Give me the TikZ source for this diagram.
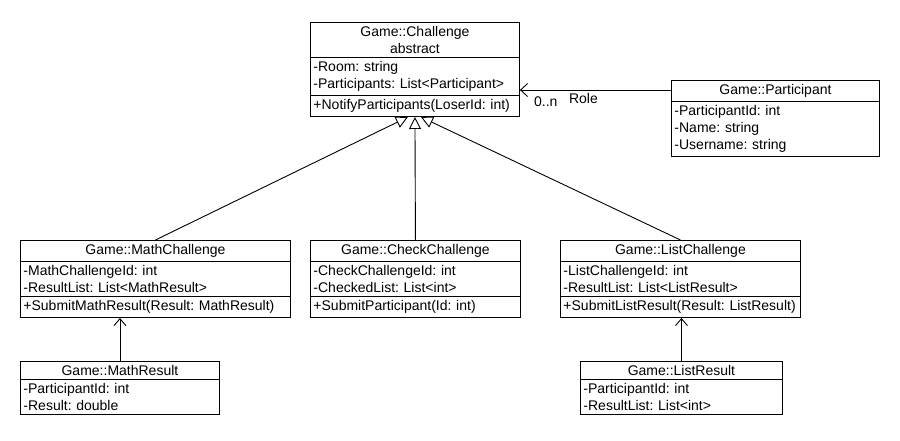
\documentclass[tikz,border=0pt]{standalone}
\usepackage{fontspec}
\setmainfont{Liberation Sans}
\frenchspacing
\usetikzlibrary{positioning, calc, shapes.multipart, arrows.meta}

\begin{document}
\begin{tikzpicture}[
  x=1pt, y=-1pt,
  every node/.style={font=\fontsize{14}{17}\selectfont},
  umlclass/.style={rectangle split, rectangle split parts=#1, draw, line width=0.9pt,
    anchor=north west, inner xsep=3pt, inner ysep=3.5pt},
  umlclass/.default=3,
  every text node part/.style={align=center},
  every two node part/.style={align=left},
  every three node part/.style={align=left},
  gen/.style={-{Triangle[open,length=12pt,width=12pt]}, line width=0.9pt},
  dep/.style={-{Straight Barb[length=7pt,width=12pt]}, line width=0.9pt},
  assoc/.style={-{Straight Barb[length=7pt,width=13pt]}, line width=0.9pt}
]
  \useasboundingbox (0,0) rectangle (900,440);

  % base class and participant
  \node[umlclass, text width=203pt] (chal) at (310,22) {Game::Challenge\\abstract
    \nodepart{two}-Room: string\\-Participants: List<Participant>
    \nodepart{three}+NotifyParticipants(LoserId: int)};
  \node[umlclass=2, text width=202pt] (part) at (671,80) {Game::Participant
    \nodepart{two}-ParticipantId: int\\-Name: string\\-Username: string};

  % challenges
  \node[umlclass, text width=264pt] (math) at (20,240) {Game::MathChallenge
    \nodepart{two}-MathChallengeId: int\\-ResultList: List<MathResult>
    \nodepart{three}+SubmitMathResult(Result: MathResult)};
  \node[umlclass, text width=204pt] (check) at (310,240) {Game::CheckChallenge
    \nodepart{two}-CheckChallengeId: int\\-CheckedList: List<int>
    \nodepart{three}+SubmitParticipant(Id: int)};
  \node[umlclass, text width=234pt] (list) at (560,240) {Game::ListChallenge
    \nodepart{two}-ListChallengeId: int\\-ResultList: List<ListResult>
    \nodepart{three}+SubmitListResult(Result: ListResult)};

  % results
  \node[umlclass=2, text width=193pt] (mres) at (20,361) {Game::MathResult
    \nodepart{two}-ParticipantId: int\\-Result: double};
  \node[umlclass=2, text width=196pt] (lres) at (580,361) {Game::ListResult
    \nodepart{two}-ParticipantId: int\\-ResultList: List<int>};

  % association
  \coordinate (rolefrom) at ($(part.north west)+(0,10)$);
  \coordinate (roleto) at (rolefrom -| chal.east);
  \draw[assoc] (rolefrom) -- (roleto);
  \node[anchor=north west, inner sep=0pt] (mult) at ($(roleto)+(14,7)$) {0..n};
  \node[anchor=north west, inner sep=0pt] (role) at ($(roleto)+(49,3)$) {Role};

  % generalizations
  \draw[gen] (math.north) -- ([xshift=-7pt]chal.south);
  \draw[gen] (check.north) -- (chal.south);
  \draw[gen] (list.north) -- ([xshift=6pt]chal.south);

  % dependencies
  \draw[dep] (mres.north) -- (mres.north |- math.south);
  \draw[dep] (lres.north) -- (lres.north |- list.south);
\end{tikzpicture}
\end{document}
